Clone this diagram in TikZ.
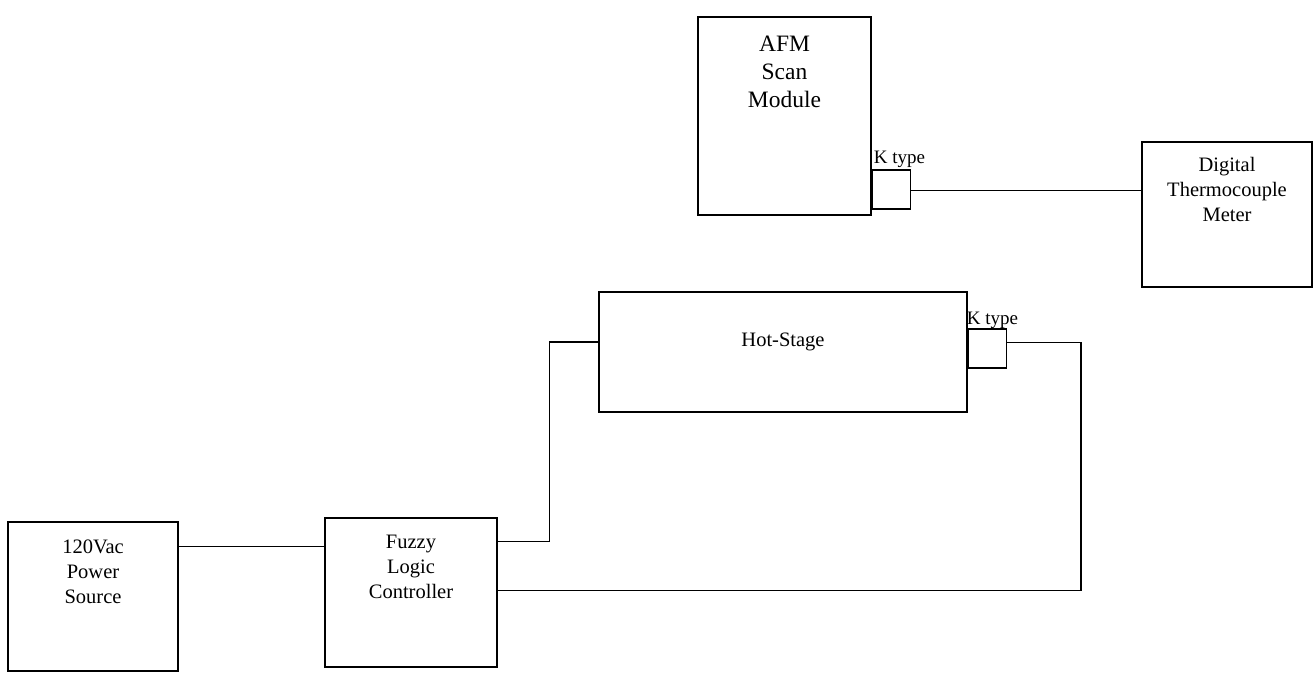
\documentclass[tikz,border=0pt]{standalone}
\usepackage{fontspec}
\setmainfont{Liberation Serif}
\usepackage{tikz}
\usetikzlibrary{positioning}
\tikzset{blk/.style={draw,line width=1.4pt,inner sep=0pt},
         wire/.style={line width=1.4pt},
         txt/.style={align=center,inner sep=0pt,font=\fontsize{20.5}{25}\selectfont},
         ktag/.style={inner sep=0pt,font=\fontsize{19}{22}\selectfont}}

\begin{document}
\begin{tikzpicture}[x=1pt,y=-1pt]
\useasboundingbox (0,0) rectangle (1314,677);
\node[blk,minimum width=173pt,minimum height=198pt] (afm) at (784.5,116) {};
\node[blk,minimum width=170pt,minimum height=145pt] (dtm) at (1227,214.5) {};
\node[blk,minimum width=368pt,minimum height=120pt] (hot) at (783,352) {};
\node[blk,minimum width=170pt,minimum height=149pt] (psu) at (93,596.5) {};
\node[blk,minimum width=172pt,minimum height=149pt] (flc) at (411,592.5) {};
% thermocouple plugs
\node[blk,minimum width=38pt,minimum height=39pt,above right=6pt and 0pt of afm.south east] (k1) {};
\node[blk,minimum width=38pt,minimum height=39pt,below right=37pt and 0pt of hot.north east] (k2) {};
\node[ktag,above right=2pt and 2pt of k1.north west] (k1tag) {K type};
\node[ktag,above right=0pt and -1pt of k2.north west] (k2tag) {K type};
\node[txt,font=\fontsize{23.5}{28}\selectfont,below=19pt of afm.north] (afmtxt) {AFM\\Scan\\Module};
\node[txt,below=16pt of dtm.north] (dtmtxt) {Digital\\Thermocouple\\Meter};
\node[txt,below=41pt of hot.north] (hottxt) {Hot-Stage};
\node[txt,below=18pt of psu.north] (psutxt) {120Vac\\Power\\Source};
\node[txt,below=18pt of flc.north] (flctxt) {Fuzzy\\Logic\\Controller};
\draw[wire] ([yshift=-1pt]k1.east) -- ([yshift=-1pt]k1.east -| dtm.west);
\draw[wire] ([yshift=50pt]psu.east) -- ([yshift=50pt]psu.east -| flc.west);
\draw[wire] ([yshift=51pt]flc.east) -| ([xshift=-49pt,yshift=10pt]hot.west) -- ([yshift=10pt]hot.west);
\draw[wire] ([yshift=2pt]flc.east) -| ([xshift=74pt,yshift=6pt]k2.east) -- ([yshift=6pt]k2.east);
\end{tikzpicture}
\end{document}
